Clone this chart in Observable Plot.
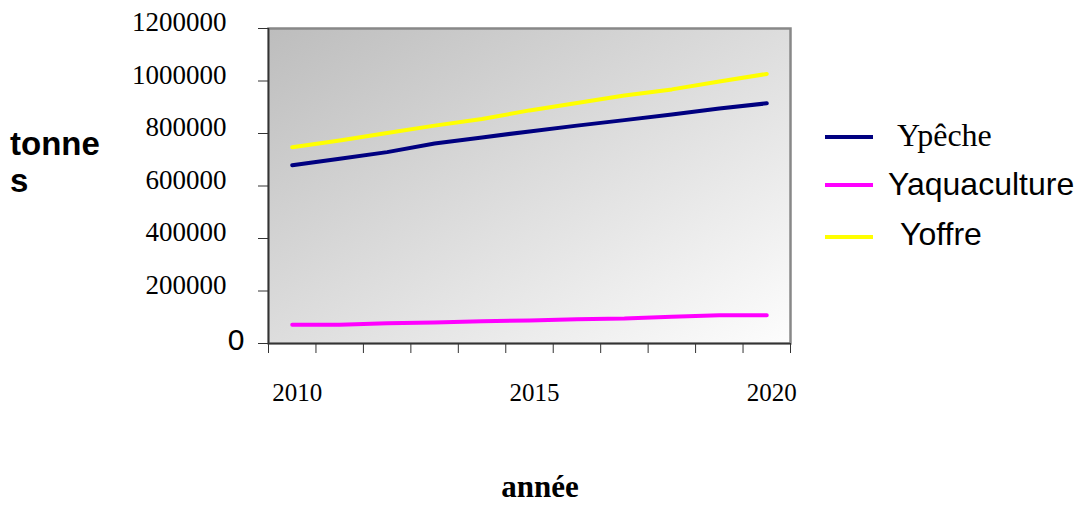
<!DOCTYPE html>
<html>
<head>
<meta charset="utf-8">
<script src="https://cdn.jsdelivr.net/npm/d3@7"></script>
<script src="https://cdn.jsdelivr.net/npm/@observablehq/plot@0.6"></script>
<style>
  html, body { margin: 0; padding: 0; background: #fff; }
  #chart { position: relative; width: 1079px; height: 506px; }
</style>
</head>
<body>
<div id="chart"></div>
<script>
// ---- data ----
const years = [2010, 2011, 2012, 2013, 2014, 2015, 2016, 2017, 2018, 2019, 2020];
const seriesNames = ["Ypêche", "Yaquaculture", "Yoffre"];
const peche = [679000, 704000, 729000, 762000, 785000, 808000, 830000, 851000, 872000, 895000, 915000];
const aquaculture = [71000, 71000, 77000, 80000, 85000, 88000, 92000, 95000, 102000, 108000, 108000];
const offre = [748000, 773000, 802000, 830000, 855000, 888000, 916000, 945000, 968000, 998000, 1027000];
const seriesColors = ["#000080", "#ff00ff", "#ffff00"];
const yTicks = [0, 200000, 400000, 600000, 800000, 1000000, 1200000];
const yTickLabels = [200000, 400000, 600000, 800000, 1000000, 1200000];
const xTickLabels = [2010, 2015, 2020];
const yTitle = ["tonne", "s"];
const xTitle = "année";

// ---- build table ----
const seriesValues = [peche, aquaculture, offre];
const rows = [];
seriesNames.forEach((name, i) => {
  years.forEach((yr, j) => rows.push({series: name, year: yr, value: seriesValues[i][j]}));
});
const xBounds = years.map(y => y - 0.5).concat([years[years.length - 1] + 0.5]);

const serif = "'Liberation Serif', 'Times New Roman', serif";
const sans = "'Liberation Sans', Arial, sans-serif";

const chart = Plot.plot({
  width: 1079,
  height: 506,
  marginLeft: 268,
  marginRight: 289,
  marginTop: 28,
  marginBottom: 163,
  style: {background: "white", overflow: "visible", color: "#000"},
  x: {type: "linear", domain: [xBounds[0], xBounds[xBounds.length - 1]]},
  y: {domain: [0, 1200000]},
  color: {domain: seriesNames, range: seriesColors},
  marks: [
    Plot.frame({fill: "#cccccc", stroke: "#888888", strokeWidth: 2.5}),
    Plot.axisY({
      ticks: yTicks, tickSize: 10, label: null,
      tickFormat: () => "", stroke: "#333"
    }),
    Plot.text(yTickLabels, {
      y: d => d, frameAnchor: "left", dx: -42, dy: -6, textAnchor: "end",
      text: d => String(d), fontSize: 27, fontFamily: serif, fill: "#000"
    }),
    Plot.text([0], {
      y: d => d, frameAnchor: "left", dx: -24, dy: -3, textAnchor: "end",
      text: d => String(d), fontSize: 30, fontFamily: sans, fill: "#000"
    }),
    Plot.axisX({
      ticks: xBounds, tickSize: 10, tickFormat: () => "", label: null, stroke: "#333"
    }),
    Plot.text(xTickLabels, {
      x: d => d, frameAnchor: "bottom", dy: 57, dx: 5, lineAnchor: "bottom",
      text: d => String(d), fontSize: 25, fontFamily: serif, fill: "#000"
    }),
    Plot.ruleX([xBounds[0]], {stroke: "#333", strokeWidth: 1.5}),
    Plot.ruleY([0], {stroke: "#333", strokeWidth: 1.5}),
    Plot.line(rows, {x: "year", y: "value", z: "series", stroke: "series", strokeWidth: 4})
  ]
});

document.getElementById("chart").appendChild(chart);

// ---- gradient background for plot area ----
const svg = d3.select(chart);
const defs = svg.insert("defs", ":first-child");
const grad = defs.append("linearGradient").attr("id", "bgGrad")
  .attr("x1", "0").attr("y1", "0").attr("x2", "1").attr("y2", "1");
grad.append("stop").attr("offset", "0%").attr("stop-color", "#bdbdbd");
grad.append("stop").attr("offset", "100%").attr("stop-color", "#fdfdfd");
chart.querySelectorAll('[aria-label="frame"]').forEach(el => {
  el.setAttribute("fill", "url(#bgGrad)");
  el.querySelectorAll("rect").forEach(r => r.setAttribute("fill", "url(#bgGrad)"));
});

// ---- titles ----
const tTitle = svg.append("text").attr("font-family", sans).attr("font-weight", "bold")
  .attr("font-size", 33).attr("fill", "#000").attr("text-anchor", "start");
yTitle.forEach((s, i) => tTitle.append("tspan").attr("x", 10).attr("y", 155 + i * 37).text(s));

svg.append("text").attr("x", 540).attr("y", 497).attr("text-anchor", "middle")
  .attr("font-family", serif).attr("font-weight", "bold").attr("font-size", 31)
  .attr("fill", "#000").text(xTitle);

// ---- legend ----
const legendLayout = [
  {ly: 137, tx: 897, ty: 146, font: serif, size: 32},
  {ly: 185, tx: 888, ty: 195, font: sans, size: 32},
  {ly: 237, tx: 900, ty: 245, font: sans, size: 32}
];
seriesNames.forEach((name, i) => {
  const L = legendLayout[i];
  svg.append("line").attr("x1", 825).attr("x2", 873).attr("y1", L.ly).attr("y2", L.ly)
    .attr("stroke", seriesColors[i]).attr("stroke-width", 4);
  svg.append("text").attr("x", L.tx).attr("y", L.ty).attr("font-family", L.font)
    .attr("text-anchor", "start")
    .attr("font-size", L.size).attr("fill", "#000").text(name);
});
</script>
</body>
</html>
